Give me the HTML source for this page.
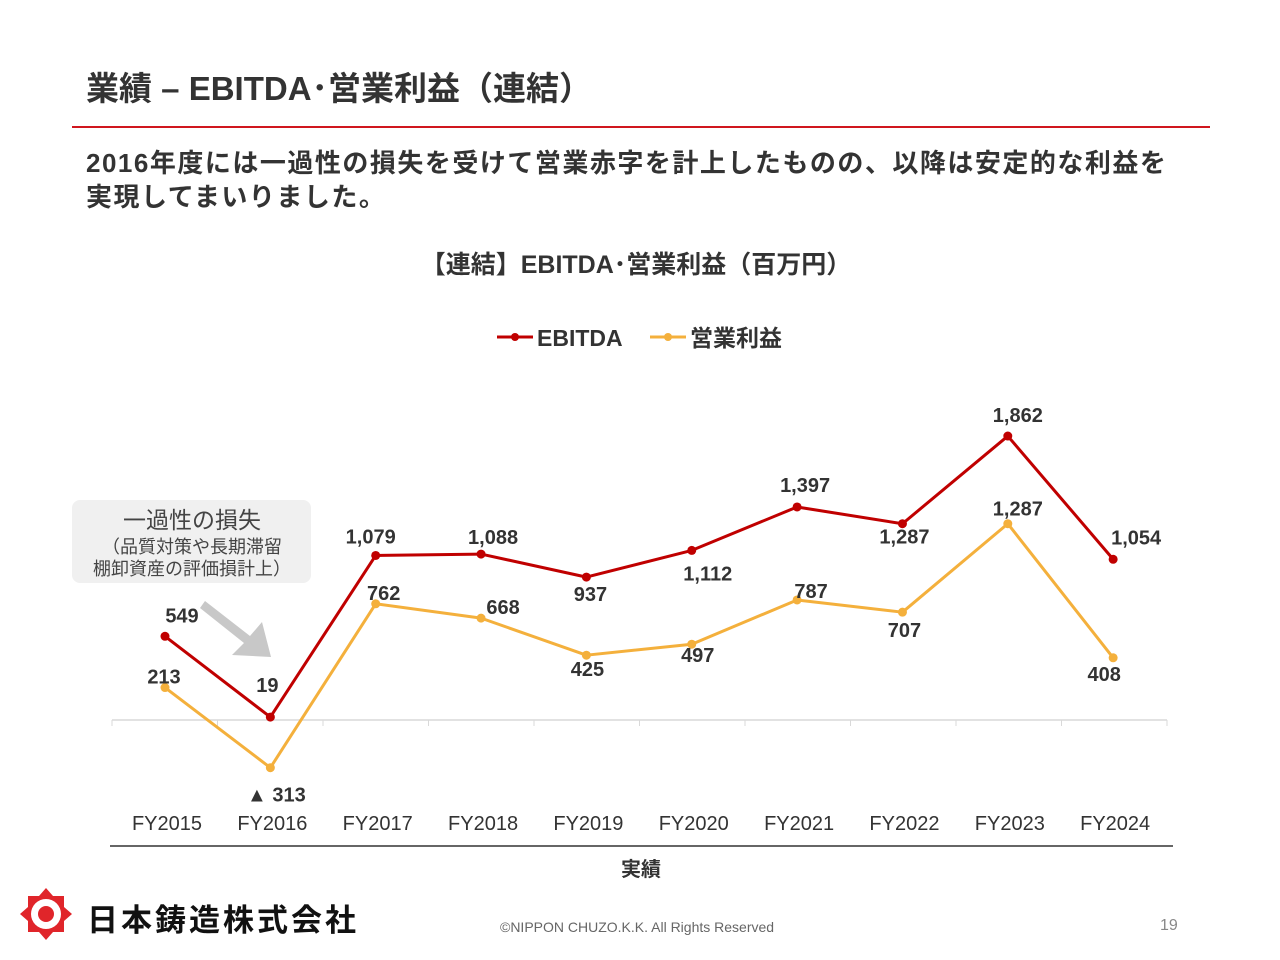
<!DOCTYPE html>
<html><head><meta charset="utf-8">
<style>
body{margin:0;width:1280px;height:960px;background:#fff;font-family:"Liberation Sans","Noto Sans CJK JP",sans-serif;position:relative;overflow:hidden}
.abs{position:absolute}
</style></head><body>
<div class="abs" style="left:86px;top:62px;font-size:33px;font-weight:bold;color:#333">業績 – EBITDA･営業利益（連結）</div>
<div class="abs" style="left:72px;top:126px;width:1138px;height:2px;background:#d0161e"></div>
<div class="abs" style="left:86px;top:146px;font-size:26px;font-weight:bold;color:#333;line-height:34px;letter-spacing:1.5px;white-space:nowrap">2016年度には一過性の損失を受けて営業赤字を計上したものの、以降は安定的な利益を<br>実現してまいりました。</div>
<svg class="abs" style="left:0;top:0" width="1280" height="960">
<text x="636" y="273" text-anchor="middle" font-size="25" font-weight="bold" fill="#333">【連結】EBITDA･営業利益（百万円）</text>
<g>
<line x1="497" y1="337" x2="533" y2="337" stroke="#c00000" stroke-width="3"/><circle cx="515" cy="337" r="4" fill="#c00000"/>
<text x="537" y="346" font-size="23" font-weight="bold" fill="#333">EBITDA</text>
<line x1="650" y1="337" x2="686" y2="337" stroke="#f4b03c" stroke-width="3"/><circle cx="668" cy="337" r="4" fill="#f4b03c"/>
<text x="690" y="346" font-size="23" font-weight="bold" fill="#333">営業利益</text>
</g>
<rect x="72" y="500" width="239" height="83" rx="8" fill="#f0f0f0"/>
<text x="192" y="528" text-anchor="middle" font-size="23" fill="#444">一過性の損失</text>
<text x="192" y="553" text-anchor="middle" font-size="18" fill="#444">（品質対策や長期滞留</text>
<text x="192" y="575" text-anchor="middle" font-size="18" fill="#444">棚卸資産の評価損計上）</text>
<polygon points="205,601 250,636 262,622 271,657 232,655 244,643 200,608" fill="#c8c8c8"/>
<line x1="112" y1="720" x2="1167" y2="720" stroke="#d9d9d9" stroke-width="1.5"/>
<g id="ticks"></g>
<line x1="110" y1="846" x2="1173" y2="846" stroke="#333" stroke-width="1.5"/>
<text x="641" y="876" text-anchor="middle" font-size="20" font-weight="bold" fill="#333">実績</text>
<g id="series"></g>
</svg>
<svg class="abs" style="left:20px;top:888px" width="52" height="52">
<polygon points="26,0 33,8 44,8 44,19 52,26 44,33 44,44 33,44 26,52 19,44 8,44 8,33 0,26 8,19 8,8 19,8" fill="#e0252a"/>
<circle cx="26" cy="26" r="15" fill="#fff"/><circle cx="26" cy="26" r="8" fill="#e0252a"/>
</svg>
<div class="abs" style="left:87px;top:895px;font-size:31px;font-weight:bold;color:#111;letter-spacing:3px">日本鋳造株式会社</div>
<div class="abs" style="left:500px;top:919px;font-size:14px;color:#666">©NIPPON CHUZO.K.K. All Rights Reserved</div>
<div class="abs" style="left:1160px;top:917px;font-size:16px;color:#888">19</div>
<script>
const categories=["FY2015","FY2016","FY2017","FY2018","FY2019","FY2020","FY2021","FY2022","FY2023","FY2024"];
const ebitda=[549,19,1079,1088,937,1112,1397,1287,1862,1054];
const opProfit=[213,-313,762,668,425,497,787,707,1287,408];
const ebitdaLabelDx=[17,-3,-5,12,4,16,8,2,10,23];
const ebitdaLabelDy=[-21,-32,-19,-17,17,23,-22,13,-21,-22];
const opLabelDx=[-1,6,8,22,1,6,14,2,10,-9];
const opLabelDy=[-11,27,-11,-11,14,11,-9,18,-15,16];
const ns="http://www.w3.org/2000/svg";
const x=i=>165+i*105.35;
const y=v=>720-v*0.1525;
const fmt=v=>(v<0?"▲ ":"")+Math.abs(v).toLocaleString("en-US");
const tk=document.getElementById("ticks"),sg=document.getElementById("series");
function mk(p,t,a){const e=document.createElementNS(ns,t);for(const k in a)e.setAttribute(k,a[k]);p.appendChild(e);return e;}
for(let i=0;i<=categories.length;i++){
 const l=mk(tk,"line",{x1:112+i*105.5,y1:720,x2:112+i*105.5,y2:726,stroke:"#d9d9d9"});
 
 
}
categories.forEach((c,i)=>{
 const t=mk(tk,"text",{x:x(i)+2,y:830,"text-anchor":"middle","font-size":20,fill:"#333"});t.textContent=c;
 
 
});
function draw(vals,color,name,dx,dy){
 const pl=mk(sg,"polyline",{points:vals.map((v,i)=>x(i)+","+y(v)).join(" "),fill:"none",stroke:color,"stroke-width":3,"stroke-linejoin":"round"});
 
 
 vals.forEach((v,i)=>{
  const c=mk(sg,"circle",{cx:x(i),cy:y(v),r:4.5,fill:color});
  
  
  const t=mk(sg,"text",{x:x(i)+dx[i],y:y(v)+dy[i]+7,"text-anchor":"middle","font-size":20,"font-weight":"bold",fill:"#333"});
  t.textContent=fmt(v);
  
  
 });
}
draw(opProfit,"#f4b03c","operating-profit",opLabelDx,opLabelDy);
draw(ebitda,"#c00000","ebitda",ebitdaLabelDx,ebitdaLabelDy);
</script>
</body></html>
